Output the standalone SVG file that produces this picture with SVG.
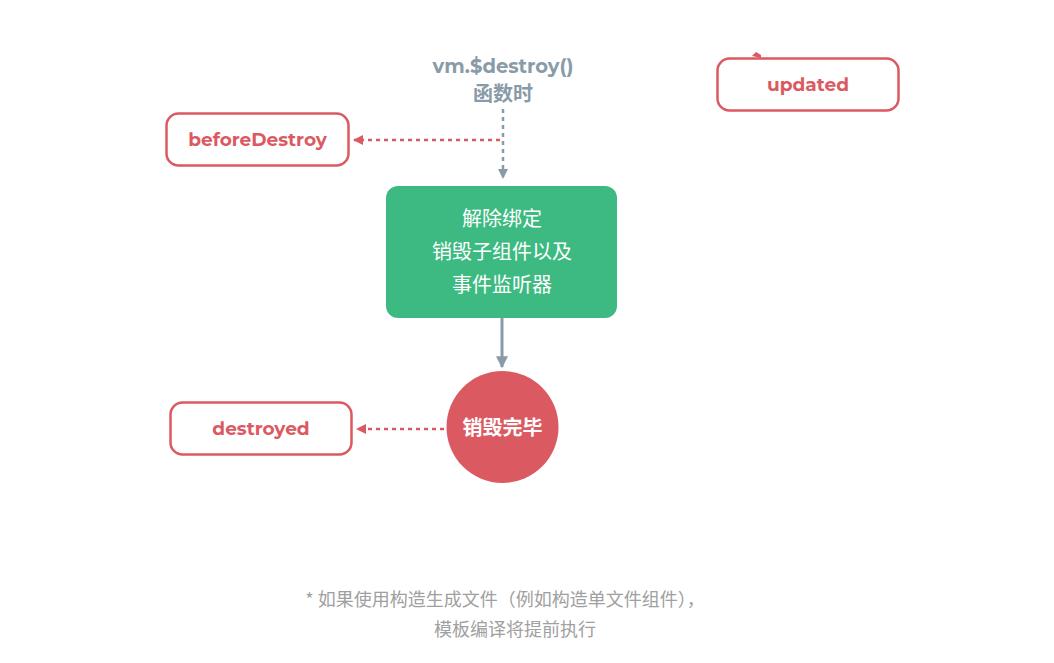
<svg xmlns="http://www.w3.org/2000/svg" width="1054" height="663" viewBox="0 0 1054 663">
<style>
.hook{fill:#fff;stroke:#db5a62;stroke-width:2.5}
.hookt{font-family:Montserrat,"Liberation Sans","Noto Sans",sans-serif;font-weight:bold;font-size:18.5px;fill:#db5a62;text-anchor:middle}
.zh{font-family:"Noto Sans CJK SC","Noto Sans",sans-serif;text-anchor:middle}
.rdash{stroke:#db5a62;stroke-width:2.5;stroke-dasharray:4 4;fill:none}
.gdash{stroke:#8a9ba8;stroke-width:2.5;stroke-dasharray:4 4;fill:none}
.gsolid{stroke:#8a9ba8;stroke-width:3;fill:none}
</style>
<defs>
<marker id="ar" viewBox="0 0 10 10" refX="9" refY="5" markerWidth="4" markerHeight="4" orient="auto" markerUnits="strokeWidth"><path d="M0,0 L10,5 L0,10 z" fill="#db5a62"/></marker>
<marker id="ag" viewBox="0 0 10 10" refX="9" refY="5" markerWidth="4" markerHeight="4" orient="auto" markerUnits="strokeWidth"><path d="M0,0 L10,5 L0,10 z" fill="#8a9ba8"/></marker>
</defs>
<rect width="1054" height="663" fill="#fff"/>
<g id="connectors">
<path class="gdash" d="M503,109 V178" marker-end="url(#ag)"/>
<path class="rdash" d="M500,140 H354" marker-end="url(#ar)"/>
<path class="gsolid" d="M502,318 V367" marker-end="url(#ag)"/>
<path class="rdash" d="M444,429 H357" marker-end="url(#ar)"/>
<path d="M752,56 L756,52 L761,55 L761,58 Z" fill="#db5a62"/>
</g>
<g id="trigger">
<text x="503" y="73" font-family="Montserrat,'Liberation Sans',sans-serif" font-weight="bold" font-size="19.5" fill="#8a9ba8" text-anchor="middle">vm.$destroy()</text>
<text class="zh" x="503" y="101" font-size="20" font-weight="bold" fill="#8a9ba8">函数时</text>
</g>
<g id="updated">
<rect class="hook" x="717.5" y="58.5" width="181" height="52" rx="12"/>
<text class="hookt" x="808" y="91">updated</text>
</g>
<g id="beforeDestroy">
<rect class="hook" x="166.5" y="113.5" width="182" height="52" rx="12"/>
<text class="hookt" x="257.5" y="146">beforeDestroy</text>
</g>
<g id="teardown">
<rect x="386" y="186" width="231" height="132" rx="12" fill="#3dba81"/>
<text class="zh" font-size="20" fill="#fff"><tspan x="502" y="226">解除绑定</tspan><tspan x="502" y="259">销毁子组件以及</tspan><tspan x="502" y="292">事件监听器</tspan></text>
</g>
<g id="destroyedDone">
<circle cx="502.5" cy="427" r="56" fill="#db5a62"/>
<text class="zh" x="502.5" y="435" font-size="20" font-weight="bold" fill="#fff">销毁完毕</text>
</g>
<g id="destroyed">
<rect class="hook" x="170.5" y="402.5" width="181" height="52" rx="12"/>
<text class="hookt" x="261" y="435">destroyed</text>
</g>
<g id="footnote">
<text class="zh" x="505" y="606" font-size="18" fill="#a0a0a0">* 如果使用构造生成文件（例如构造单文件组件），</text>
<text class="zh" x="515" y="636" font-size="18" fill="#a0a0a0">模板编译将提前执行</text>
</g>
</svg>
